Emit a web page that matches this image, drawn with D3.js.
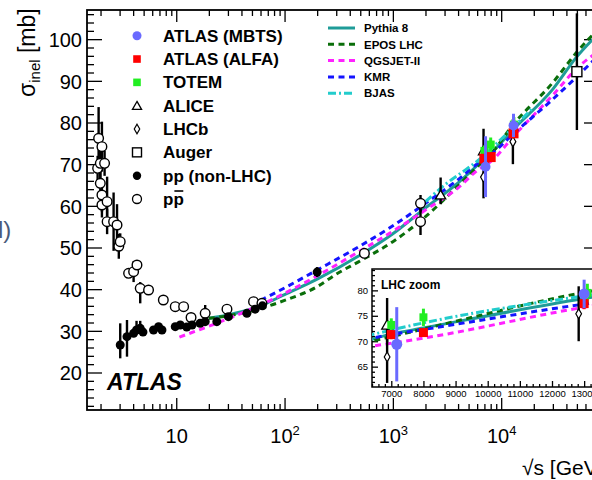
<!DOCTYPE html>
<html><head><meta charset="utf-8">
<script src="https://cdn.jsdelivr.net/npm/d3@7"></script>
<style>body{margin:0;background:#fff}svg{display:block}text{font-family:"Liberation Sans",Arial,Helvetica,sans-serif}</style>
</head><body><svg id="c" width="592" height="480"></svg>
<script>
// ---------------- data ----------------
const xTickDecades = [10, 100, 1000, 10000];
const xTickLabels = [["10",""],["10","2"],["10","3"],["10","4"]];
const yTickLabels = [20,30,40,50,60,70,80,90,100];
const insetXTicks = [7000,8000,9000,10000,11000,12000,13000];
const insetYTicks = [65,70,75,80];
const legendLabels = ["ATLAS (MBTS)","ATLAS (ALFA)","TOTEM","ALICE","LHCb","Auger","pp (non-LHC)","pp"];
const modelNames = ["Pythia 8","EPOS LHC","QGSJET-II","KMR","BJAS"];

// model curves: [sqrt(s) GeV, sigma_inel mb]
const pythia8 = [[20,33.0],[30,33.8],[50,35.3],[70,36.8],[100,38.7],[200,42.4],[500,48.2],[1000,53.3],[2000,59.5],[4000,65.5],[6400,70.4],[7000,71.4],[8000,72.6],[13000,78.4],[30000,88.0],[50000,95.8],[80000,101.5]];
const eposLHC = [[20,33.0],[30,33.6],[50,34.8],[70,35.9],[100,37.3],[200,40.6],[300,43.6],[500,46.8],[1000,51.4],[2000,57.4],[4000,64.8],[6400,70.0],[7000,70.9],[8000,72.4],[13000,79.6],[30000,89.6],[50000,96.9],[80000,102.6]];
const qgsjet = [[10.7,28.5],[15,29.9],[20,31.1],[30,32.9],[50,35.3],[70,37.0],[100,39.0],[200,43.2],[500,49.2],[1000,53.9],[2000,59.0],[4000,64.3],[6400,69.0],[7000,69.6],[8000,70.6],[13000,76.7],[30000,86.6],[50000,93.0],[80000,97.2]];
const kmr = [[60,37.3],[100,40.3],[200,44.6],[500,50.4],[1000,55.2],[2000,60.6],[4000,66.3],[6400,70.6],[7000,71.3],[8000,72.3],[13000,77.3],[30000,85.6],[50000,91.0],[80000,96.2]];
const bjas = [[2000,61.0],[3140,65.4],[4780,68.8],[6400,71.3],[7000,72.2],[8000,73.6],[13000,78.9],[20000,83.7]];

// measurements: [sqrt(s), sigma, err-, err+]
const atlasMBTS = [[7170,69.4,7.3,7.3],[13000,79.3,2.8,2.8]];
const atlasALFA = [[7000,71.3,0.9,0.9],[8000,71.7,0.7,0.7],[13000,77.4,1.1,1.1]];
const totem = [[7000,73.2,1.3,1.3],[8000,74.7,1.7,1.7],[13100,79.5,1.8,1.8]];
const alice = [[2760,62.6,2.2,4.2],[6870,73.2,3.4,5.3]];
const lhcb = [[6870,66.9,5.1,5.1],[12830,75.4,5.4,5.4]];
const auger = [[50000,92.2,14,14]];
const ppNonLHC = [[3.04,26.6,3.2,5.2],[3.51,28.6,4.8,4.0],[4.04,29.4,0.8,0.8],[4.3,30.2,1.0,2.2],[4.65,30.6,1.0,1.8],[4.93,29.7,0.5,0.5],[6.17,30.2,0.6,0.6],[6.87,31.0,0.8,0.8],[7.38,30.2,0.5,0.5],[9.79,31.0,0.4,0.4],[10.9,31.4,0.5,0.5],[12.5,30.9,0.4,0.4],[14.0,31.4,0.5,0.5],[16.6,31.8,0.5,0.5],[18.5,32.2,0.6,0.6],[23.7,32.2,0.5,0.5],[30.3,33.4,0.5,0.5],[44.9,34.2,0.5,0.5],[53.5,35.2,0.5,0.5],[62.5,36.0,0.5,0.5],[200,44.1,1.2,1.2]];
const ppbar = [[1.88,69.0,3,3],[1.92,76.2,7.5,7.5],[1.99,70.2,5,5],[1.99,65.4,3,3],[2.06,74.2,6,6],[2.06,62.6,4,4],[2.06,60.2,3,3],[2.18,70.2,3,3],[2.30,61.0,6,6],[2.30,56.2,3,3],[2.64,56.2,7,7],[2.84,55.4,5,5],[2.95,50.3,3,3],[3.04,51.4,2,2],[3.63,43.8,1,1],[4.04,44.2,2.5,2.5],[4.34,45.8,1,1],[4.65,40.2,3.6,1.5],[5.55,39.8,0.5,0.5],[7.6,37.4,0.5,0.5],[9.79,35.8,0.5,0.5],[11.7,35.8,0.5,0.5],[13.7,33.2,1.0,1.0],[18.5,34.2,2.0,2.0],[29.4,35.2,0.5,0.5],[51.7,37.0,0.5,0.5],[61.8,36.6,0.5,0.5],[546,48.6,1.0,1.0],[1800,60.6,2.0,2.0],[1800,56.2,3.2,3.2]];

// ---------------- style ----------------
const C = {pythia:"#1f9c98", epos:"#0a6e0a", qgs:"#ff22ff", kmr:"#1414ff", bjas:"#22cccc", mbts:"#6a6aff", alfa:"#ff0000", totem:"#22ee22"};
const models = [
  {name:modelNames[0], data:pythia8, color:C.pythia, dash:null},
  {name:modelNames[1], data:eposLHC, color:C.epos, dash:"6,4.5"},
  {name:modelNames[2], data:qgsjet, color:C.qgs, dash:"6,4.5"},
  {name:modelNames[3], data:kmr, color:C.kmr, dash:"6,4.5"},
  {name:modelNames[4], data:bjas, color:C.bjas, dash:"8,3,2,3"}
];

const svg = d3.select("#c");
const L=87, R=599, T=10, B=410;
const x = d3.scaleLog().domain([1.5,80000]).range([L,R]);
const y = d3.scaleLinear().domain([11,107]).range([B,T]);

const defs = svg.append("defs");
defs.append("clipPath").attr("id","mainclip").append("rect").attr("x",L).attr("y",T).attr("width",R-L).attr("height",B-T);
const IL=372, IR=597, IT=269, IB=387;
const ix = d3.scaleLinear().domain([6400,13400]).range([IL,IR]);
const iy = d3.scaleLinear().domain([61,84.2]).range([IB,IT]);
defs.append("clipPath").attr("id","insetclip").append("rect").attr("x",IL).attr("y",IT).attr("width",IR-IL).attr("height",IB-IT);

// stray page text at left edge
svg.append("text").attr("x",-2).attr("y",238).attr("font-size",24).attr("fill","#4a5a7a").text("l)");

// ---------------- axes ----------------
const minorX = x.ticks().filter(v => !xTickDecades.includes(v));
function axisStyle(g){ g.select(".domain").remove(); g.selectAll("line").attr("stroke","#000").attr("stroke-width",1.3); }
svg.append("g").attr("transform",`translate(0,${B})`).call(d3.axisBottom(x).tickValues(minorX).tickSize(-6).tickFormat("")).call(axisStyle);
const xb = svg.append("g").attr("transform",`translate(0,${B})`).call(d3.axisBottom(x).tickValues(xTickDecades).tickSize(-12).tickPadding(19).tickFormat(()=>"")).call(axisStyle);
xb.selectAll("text").each(function(d,i){
  const t = d3.select(this).attr("font-size",20).attr("fill","#000").attr("font-family",'"Liberation Sans",Arial,sans-serif');
  t.append("tspan").text(xTickLabels[i][0]);
  if (xTickLabels[i][1]) t.append("tspan").attr("font-size",13).attr("dy",-8).text(xTickLabels[i][1]);
});
svg.append("g").attr("transform",`translate(0,${T})`).call(d3.axisTop(x).tickValues(minorX).tickSize(-6).tickFormat("")).call(axisStyle);
svg.append("g").attr("transform",`translate(0,${T})`).call(d3.axisTop(x).tickValues(xTickDecades).tickSize(-12).tickFormat("")).call(axisStyle);

const minorY = d3.range(12,107,2).filter(v => v%10!==0);
svg.append("g").attr("transform",`translate(${L},0)`).call(d3.axisLeft(y).tickValues(minorY).tickSize(-7).tickFormat("")).call(axisStyle);
const yl = svg.append("g").attr("transform",`translate(${L},0)`).call(d3.axisLeft(y).tickValues(yTickLabels).tickSize(-15).tickPadding(5).tickFormat(d3.format("d"))).call(axisStyle);
yl.selectAll("text").attr("font-size",20).attr("fill","#000").attr("font-family",'"Liberation Sans",Arial,sans-serif').attr("dy","0.36em");
svg.append("g").attr("transform",`translate(${R},0)`).call(d3.axisRight(y).tickValues(minorY).tickSize(-7).tickFormat("")).call(axisStyle);
svg.append("g").attr("transform",`translate(${R},0)`).call(d3.axisRight(y).tickValues(yTickLabels).tickSize(-15).tickFormat("")).call(axisStyle);

// axis titles
const yt = svg.append("text").attr("transform","translate(35,97) rotate(-90)").attr("font-size",23);
yt.append("tspan").text("σ");
yt.append("tspan").attr("font-size",15).attr("dy",5).text("inel");
yt.append("tspan").attr("dy",-5).text(" [mb]");
svg.append("text").attr("x",522).attr("y",475).attr("font-size",21).text("√s [GeV]");

// ---------------- curves ----------------
const mainLine = d3.line().x(d=>x(d[0])).y(d=>y(d[1])).curve(d3.curveMonotoneX);
const gCurves = svg.append("g").attr("clip-path","url(#mainclip)");
models.forEach(m => {
  gCurves.append("path").attr("d",mainLine(m.data)).attr("fill","none").attr("stroke",m.color).attr("stroke-width",3).attr("stroke-dasharray",m.dash);
});

// ---------------- markers ----------------
function drawPoints(g, data, sx, sy, kind, opts={}){
  const ecol = opts.ecol || "#000";
  g.selectAll(null).data(data).enter().append("line")
    .attr("x1",d=>sx(d[0])).attr("x2",d=>sx(d[0]))
    .attr("y1",d=>sy(d[1]-d[2])).attr("y2",d=>sy(d[1]+d[3]))
    .attr("stroke",ecol).attr("stroke-width",opts.ew||2.4);
  const sel = g.selectAll(null).data(data).enter();
  if (kind==="fcircle") sel.append("circle").attr("cx",d=>sx(d[0])).attr("cy",d=>sy(d[1])).attr("r",opts.r||4.5).attr("fill",opts.fill||"#000");
  if (kind==="ocircle") sel.append("circle").attr("cx",d=>sx(d[0])).attr("cy",d=>sy(d[1])).attr("r",opts.r||4.8).attr("fill","#fff").attr("stroke","#000").attr("stroke-width",1.4);
  if (kind==="square") sel.append("rect").attr("x",d=>sx(d[0])-opts.s/2).attr("y",d=>sy(d[1])-opts.s/2).attr("width",opts.s).attr("height",opts.s).attr("fill",opts.fill);
  if (kind==="osquare") sel.append("rect").attr("x",d=>sx(d[0])-opts.s/2).attr("y",d=>sy(d[1])-opts.s/2).attr("width",opts.s).attr("height",opts.s).attr("fill","#fff").attr("stroke","#000").attr("stroke-width",1.4);
  if (kind==="triangle") sel.append("path").attr("d",d3.symbol(d3.symbolTriangle,opts.size||45)).attr("transform",d=>`translate(${sx(d[0])},${sy(d[1])+1})`).attr("fill","#fff").attr("stroke","#000").attr("stroke-width",1.3);
  if (kind==="diamond") sel.append("path").attr("d",d3.symbol(d3.symbolDiamond,opts.size||30)).attr("transform",d=>`translate(${sx(d[0])},${sy(d[1])})`).attr("fill","#fff").attr("stroke","#000").attr("stroke-width",1.2);
}
const gPts = svg.append("g").attr("clip-path","url(#mainclip)");
drawPoints(gPts, ppbar, x, y, "ocircle");
drawPoints(gPts, ppNonLHC, x, y, "fcircle");
drawPoints(gPts, auger, x, y, "osquare", {s:10});
drawPoints(gPts, alice, x, y, "triangle");
drawPoints(gPts, lhcb, x, y, "diamond");
drawPoints(gPts, totem, x, y, "square", {s:8, fill:C.totem, ecol:C.totem, ew:3});
drawPoints(gPts, atlasALFA, x, y, "square", {s:10, fill:C.alfa, ecol:C.alfa, ew:3});
drawPoints(gPts, atlasMBTS, x, y, "fcircle", {r:5, fill:C.mbts, ecol:C.mbts, ew:3});

// ATLAS label
svg.append("text").attr("x",107).attr("y",390).attr("font-size",23).attr("font-weight","bold").attr("font-style","italic").text("ATLAS");

// ---------------- legend 1 ----------------
const lg = svg.append("g");
const lx = 137, ltx = 163, lb0 = 41.7, ldy = 23.33;
legendLabels.forEach((lab,i) => {
  const by = lb0 + i*ldy, cy = by - 6;
  const t = lg.append("text").attr("x",ltx).attr("y",by).attr("font-size",17).attr("font-weight","bold").text(lab);
  if (i===7) {
    const n = t.node();
    const x0 = ltx + n.getSubStringLength(0,1), x1 = ltx + n.getComputedTextLength();
    lg.append("line").attr("x1",x0+1).attr("x2",x1-0.5).attr("y1",by-14).attr("y2",by-14).attr("stroke","#000").attr("stroke-width",1.6);
  }
  if (i===0) lg.append("circle").attr("cx",lx).attr("cy",cy).attr("r",4.5).attr("fill",C.mbts);
  if (i===1) lg.append("rect").attr("x",lx-3.8).attr("y",cy-3.8).attr("width",7.6).attr("height",7.6).attr("fill",C.alfa);
  if (i===2) lg.append("rect").attr("x",lx-3.8).attr("y",cy-3.8).attr("width",7.6).attr("height",7.6).attr("fill",C.totem);
  if (i===3) lg.append("path").attr("d",d3.symbol(d3.symbolTriangle,36)).attr("transform",`translate(${lx},${cy+1})`).attr("fill","#fff").attr("stroke","#000").attr("stroke-width",1.3);
  if (i===4) lg.append("path").attr("d",d3.symbol(d3.symbolDiamond,26)).attr("transform",`translate(${lx},${cy})`).attr("fill","#fff").attr("stroke","#000").attr("stroke-width",1.2);
  if (i===5) lg.append("rect").attr("x",lx-4.5).attr("y",cy-4.5).attr("width",9).attr("height",9).attr("fill","#fff").attr("stroke","#000").attr("stroke-width",1.4);
  if (i===6) lg.append("circle").attr("cx",lx).attr("cy",cy).attr("r",4.2).attr("fill","#000");
  if (i===7) lg.append("circle").attr("cx",lx).attr("cy",cy).attr("r",4.5).attr("fill","#fff").attr("stroke","#000").attr("stroke-width",1.3);
});

// ---------------- legend 2 ----------------
const l2 = svg.append("g");
models.forEach((m,i) => {
  const cy = 28 + i*16.3;
  l2.append("line").attr("x1",328).attr("x2",355).attr("y1",cy).attr("y2",cy).attr("stroke",m.color).attr("stroke-width",3).attr("stroke-dasharray",m.dash);
  l2.append("text").attr("x",364).attr("y",cy+4.2).attr("font-size",11.5).attr("font-weight","bold").text(m.name);
});

// ---------------- inset ----------------
const gi = svg.append("g");
gi.append("rect").attr("x",IL).attr("y",IT).attr("width",IR-IL).attr("height",IB-IT).attr("fill","#fff").attr("stroke","#000").attr("stroke-width",1.5);
const insetMinorX = d3.range(6400,13401,200).filter(v => v%1000!==0);
const insetMinorY = d3.range(62,85,1).filter(v => v%5!==0);
gi.append("g").attr("transform",`translate(0,${IB})`).call(d3.axisBottom(ix).tickValues(insetMinorX).tickSize(-3).tickFormat("")).call(axisStyle);
const ixa = gi.append("g").attr("transform",`translate(0,${IB})`).call(d3.axisBottom(ix).tickValues(insetXTicks).tickSize(-6).tickPadding(3).tickFormat(d3.format("d"))).call(axisStyle);
ixa.selectAll("text").attr("font-size",9.5).attr("fill","#000").attr("font-family",'"Liberation Sans",Arial,sans-serif');
gi.append("g").attr("transform",`translate(${IL},0)`).call(d3.axisLeft(iy).tickValues(insetMinorY).tickSize(-3).tickFormat("")).call(axisStyle);
const iya = gi.append("g").attr("transform",`translate(${IL},0)`).call(d3.axisLeft(iy).tickValues(insetYTicks).tickSize(-6).tickPadding(4).tickFormat(d3.format("d"))).call(axisStyle);
iya.selectAll("text").attr("font-size",9.5).attr("fill","#000").attr("font-family",'"Liberation Sans",Arial,sans-serif');
gi.append("text").attr("x",381).attr("y",288.5).attr("font-size",12).attr("font-weight","bold").text("LHC zoom");

const insetLine = d3.line().x(d=>ix(d[0])).y(d=>iy(d[1])).curve(d3.curveMonotoneX);
const giC = gi.append("g").attr("clip-path","url(#insetclip)");
models.forEach(m => {
  const sub = m.data.filter(d => d[0] >= 4000 && d[0] <= 30000);
  giC.append("path").attr("d",insetLine(sub)).attr("fill","none").attr("stroke",m.color).attr("stroke-width",3).attr("stroke-dasharray",m.dash);
});
drawPoints(giC, alice.filter(d=>d[0]>6000), ix, iy, "triangle", {size:50});
drawPoints(giC, lhcb, ix, iy, "diamond", {size:28});
drawPoints(giC, totem, ix, iy, "square", {s:8, fill:C.totem, ecol:C.totem, ew:3});
drawPoints(giC, atlasALFA, ix, iy, "square", {s:9, fill:C.alfa, ecol:C.alfa, ew:3});
drawPoints(giC, atlasMBTS, ix, iy, "fcircle", {r:5.5, fill:C.mbts, ecol:C.mbts, ew:3});

// ---------------- frame ----------------
svg.append("rect").attr("x",L).attr("y",T).attr("width",R-L).attr("height",B-T).attr("fill","none").attr("stroke","#000").attr("stroke-width",1.8);
</script></body></html>
